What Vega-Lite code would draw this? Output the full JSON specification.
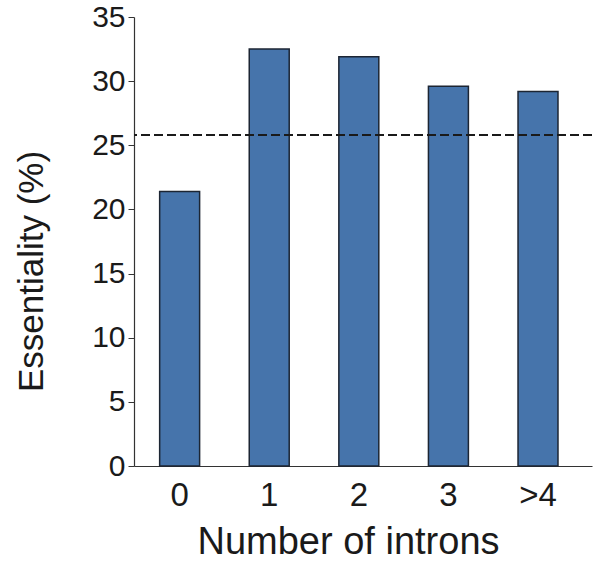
{
  "$schema": "https://vega.github.io/schema/vega-lite/v6.json",
  "width": 458,
  "height": 449,
  "autosize": {"type": "none"},
  "padding": {"left": 134, "top": 17, "right": 8, "bottom": 95},
  "background": "white",
  "config": {"view": {"stroke": null}, "font": "Liberation Sans"},
  "data": {"values": [
    {"introns": "0", "essentiality": 21.4},
    {"introns": "1", "essentiality": 32.5},
    {"introns": "2", "essentiality": 31.9},
    {"introns": "3", "essentiality": 29.6},
    {"introns": ">4", "essentiality": 29.2}
  ]},
  "layer": [
    {
      "mark": {"type": "bar", "fill": "#4674ab", "stroke": "#1c2533", "strokeWidth": 1.5},
      "encoding": {
        "x": {"field": "introns", "type": "nominal", "sort": null,
          "scale": {"paddingInner": 0.554, "paddingOuter": 0.333, "align": 0.43},
          "axis": {"title": "Number of introns", "titleFontSize": 38, "titleFontWeight": "normal", "titleColor": "#1a1a1a",
            "titleX": 214, "titleY": 87, "titleBaseline": "alphabetic", "titleAnchor": "middle", "titleAlign": "center",
            "labelFontSize": 33, "labelColor": "#1a1a1a", "labelAngle": 0, "labelBaseline": "alphabetic", "labelPadding": 39, "ticks": false, "domainColor": "#333333", "domainWidth": 1.2}},
        "y": {"field": "essentiality", "type": "quantitative",
          "scale": {"domain": [0, 35], "nice": false},
          "axis": {"title": "Essentiality (%)", "titleFontSize": 35, "titleFontWeight": "normal", "titleColor": "#1a1a1a",
            "titleX": -92, "titleY": 254, "titleBaseline": "alphabetic", "titleAlign": "center", "titleAngle": -90,
            "values": [0, 5, 10, 15, 20, 25, 30, 35], "grid": false, "labelFontSize": 30, "labelColor": "#1a1a1a", "labelPadding": 3,
            "tickSize": 6, "tickColor": "#333333", "domainColor": "#333333", "domainWidth": 1.2}}
      }
    },
    {
      "data": {"values": [{"baseline": 25.8}]},
      "mark": {"type": "rule", "strokeDash": [9, 4], "strokeWidth": 2, "color": "#1a1a1a"},
      "encoding": {"y": {"field": "baseline", "type": "quantitative"}}
    }
  ]
}
